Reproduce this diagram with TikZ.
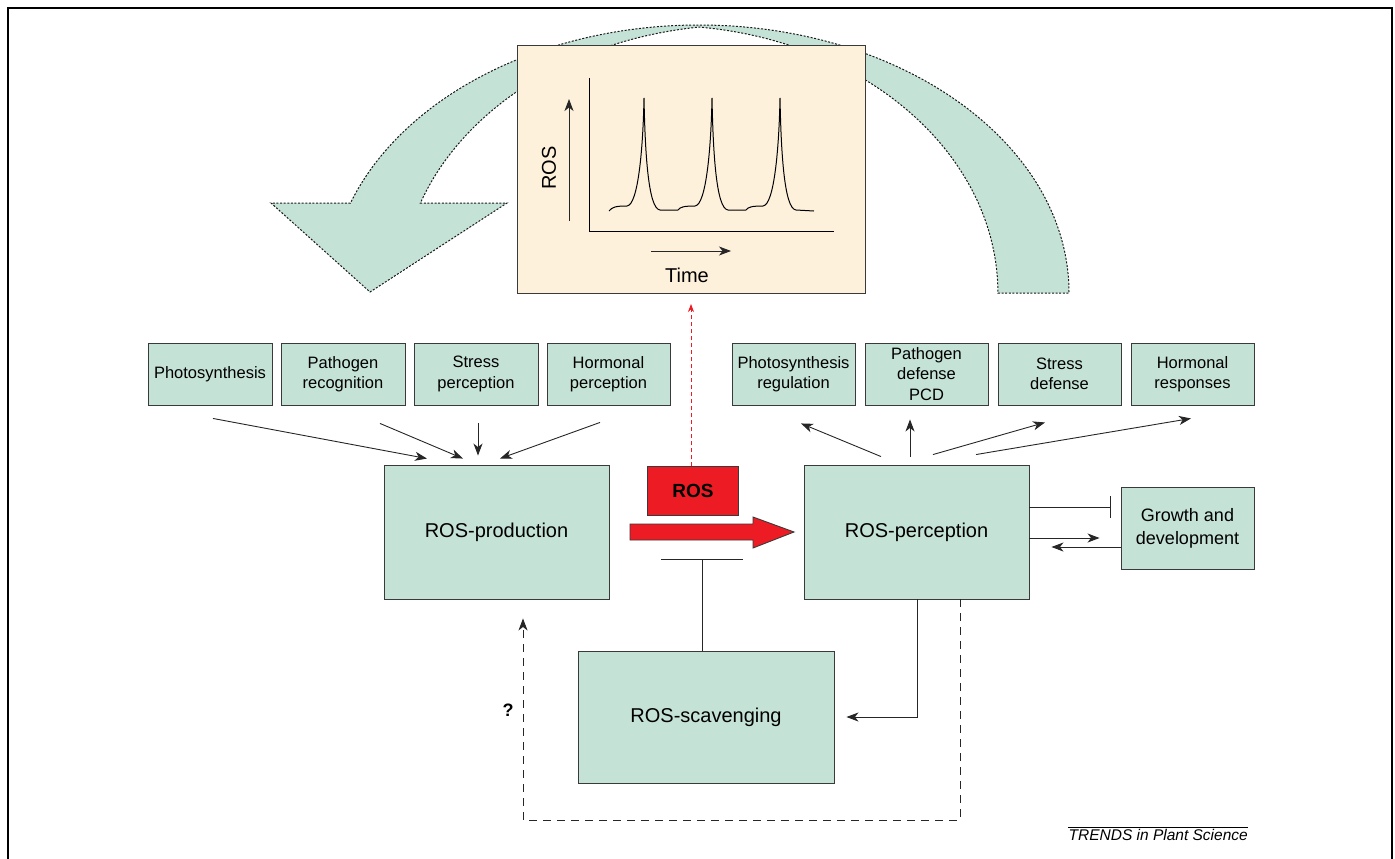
\documentclass[tikz,border=0pt]{standalone}
\usepackage{fontspec}
\setmainfont{Liberation Sans}
\usetikzlibrary{arrows.meta,calc}
\definecolor{boxgreen}{HTML}{C5E2D7}
\definecolor{cream}{HTML}{FEF1DC}
\definecolor{rosred}{HTML}{ED1C24}
\definecolor{edge}{HTML}{3A3A3A}
\begin{document}
\begin{tikzpicture}[x=1pt,y=-1pt,
  box/.style={draw=edge, line width=0.9pt, fill=boxgreen, align=center, inner sep=0pt, font=\fontsize{16.5}{20.5}\selectfont},
  bigbox/.style={box, font=\fontsize{20}{24}\selectfont},
  arr/.style={-{Stealth[length=12pt,width=9pt,inset=3.5pt]}, line width=0.9pt, draw=black!85},
  dsh/.style={dash pattern=on 8pt off 6pt},
  band/.style={fill=boxgreen, draw=black!90, line width=1pt, dash pattern=on 2pt off 1.6pt},
]
\useasboundingbox (0,0) rectangle (1395,859);
% frame
\draw[line width=2pt] (8,859) -- (8,8) -- (1392,8) -- (1392,859);

% big circular arrow
\path[band] (998,293) -- (1069,293)
  arc[start angle=0, end angle=160.4, x radius=370pt, y radius=268pt]
  -- (271,203) -- (370,292) -- (507,203) -- (420.4,203)
  arc[start angle=160.4, end angle=97.3, x radius=342pt, y radius=268pt]
  arc[start angle=83.8, end angle=0, x radius=335pt, y radius=268pt]
  -- cycle;

% graph box
\node[draw=edge, line width=0.9pt, fill=cream, minimum width=348pt, minimum height=248pt, inner sep=0pt] (graph) at (691,169) {};
\draw[line width=0.9pt] (589,78) -- (589,231) -- (834,231);
\draw[arr] (569,221) -- (569,99);
\draw[arr] (651,251) -- (731,251);
\node[font=\fontsize{20}{24}\selectfont, rotate=90, inner sep=0pt] (ylab) at (549,168) {ROS};
\node[font=\fontsize{20}{24}\selectfont, inner sep=0pt] (xlab) at (687,275) {Time};
\draw[line width=1pt] (609,211) .. controls (612,207) and (616,206) .. (627,206)
  .. controls (638,205) and (643,150) .. (644,98)
  .. controls (645,150) and (648,209) .. (660,210)
  -- (678,210) .. controls (680,207) and (684,206) .. (695,206)
  .. controls (706,205) and (711,150) .. (712,98)
  .. controls (713,150) and (716,209) .. (728,210)
  -- (746,210) .. controls (748,207) and (752,206) .. (763,206)
  .. controls (774,205) and (779,150) .. (780,98)
  .. controls (781,150) and (784,209) .. (796,210)
  -- (814,211);

% input boxes
\node[box, minimum width=124pt, minimum height=62pt] (ps) at (210,374) {Photosynthesis};
\node[box, minimum width=124pt, minimum height=62pt] (pr) at (343,374) {Pathogen\\recognition};
\node[box, minimum width=124pt, minimum height=62pt] (sp) at (476,374) {Stress\\perception};
\node[box, minimum width=123pt, minimum height=62pt] (hp) at (608.5,374) {Hormonal\\perception};

% output boxes
\node[box, minimum width=123pt, minimum height=62pt] (pg) at (793.5,374) {Photosynthesis\\regulation};
\node[box, minimum width=123pt, minimum height=62pt] (pd) at (926.5,374) {Pathogen\\defense\\PCD};
\node[box, minimum width=123pt, minimum height=62pt] (sd) at (1059.5,374) {Stress\\defense};
\node[box, minimum width=123pt, minimum height=62pt] (hr) at (1192.5,374) {Hormonal\\responses};

% main boxes
\node[bigbox, minimum width=225pt, minimum height=134pt] (prod) at (496.5,532) {ROS-production};
\node[bigbox, minimum width=225pt, minimum height=134pt] (perc) at (916.5,532) {ROS-perception};
\node[bigbox, minimum width=256pt, minimum height=132pt] (scav) at (706,717) {ROS-scavenging};
\node[box, minimum width=133pt, minimum height=82pt, font=\fontsize{18}{23}\selectfont] (growth) at (1187.5,528) {Growth and\\development};

% inputs to production
\draw[arr] ([shift={(3,13)}]ps.south) -- ([shift={(-69.5,-6)}]prod.north);
\draw[arr] ([shift={(37,18)}]pr.south) -- ([shift={(-33.5,-6)}]prod.north);
\draw[arr] ([shift={(2,18)}]sp.south) -- ([shift={(-18.5,-9)}]prod.north);
\draw[arr] ([shift={(-8.5,17)}]hp.south) -- ([shift={(3.5,-6)}]prod.north);

% perception to outputs
\draw[arr] ([shift={(-35.5,-8)}]perc.north) -- ([shift={(7.5,18)}]pg.south);
\draw[arr] ([shift={(-6.5,-8)}]perc.north) -- ([shift={(-16.5,14)}]pd.south);
\draw[arr] ([shift={(16.5,-10)}]perc.north) -- ([shift={(-14.5,17)}]sd.south);
\draw[arr] ([shift={(59.5,-10)}]perc.north) -- ([shift={(-1.5,13)}]hr.south);

% growth links
\draw[line width=0.9pt, draw=black!85, -{Bar[width=22pt,line width=0.9pt]}] ([shift={(0,-25)}]perc.east) -- ([shift={(-10,-21)}]growth.west);
\draw[arr] ([shift={(0,6)}]perc.east) -- ([shift={(-21,10)}]growth.west);
\draw[arr] ([shift={(0,19)}]growth.west) -- ([shift={(22,15)}]perc.east);

% ROS signal
\node[draw=edge, line width=0.9pt, fill=rosred, minimum width=91pt, minimum height=49pt, inner sep=0pt, font=\bfseries\fontsize{19}{22}\selectfont] (rosbox) at (693,491) {ROS};
\draw[draw=edge, line width=0.9pt, fill=rosred] (630,524) -- (753,524) -- (753,517) -- (794,532) -- (753,548) -- (753,540) -- (630,540) -- cycle;
\coordinate (redtip) at (691,304);
\draw[line width=0.8pt, draw=rosred, dash pattern=on 4pt off 3pt, -{Stealth[length=8pt,width=6pt,inset=2.5pt]}] ([xshift=-2pt]rosbox.north) -- (redtip);

% scavenging inhibition
\coordinate (bar) at (702,559);
\draw[line width=0.9pt, draw=black!85] (661,559) -- (743,559);
\draw[line width=0.9pt, draw=black!85] (bar) -- (bar |- scav.north);
\draw[arr] ([xshift=0.5pt]perc.south) |- ([xshift=12pt]scav.east);

% feedback dashed
\coordinate (fbcorner) at (523,820);
\draw[arr, dsh] ([xshift=43.5pt]perc.south) |- (fbcorner) -- ([shift={(26.5,19)}]prod.south);
\node[font=\bfseries\fontsize{18}{22}\selectfont, inner sep=0pt] (q) at (508,710) {?};

% credit
\node[font=\itshape\fontsize{15.5}{18}\selectfont, anchor=base east, inner sep=0pt] (trends) at (1248,840.5) {TRENDS in Plant Science};
\draw[line width=0.7pt] ([yshift=1.5pt]trends.north west) -- ([yshift=1.5pt]trends.north east);
\end{tikzpicture}
\end{document}
